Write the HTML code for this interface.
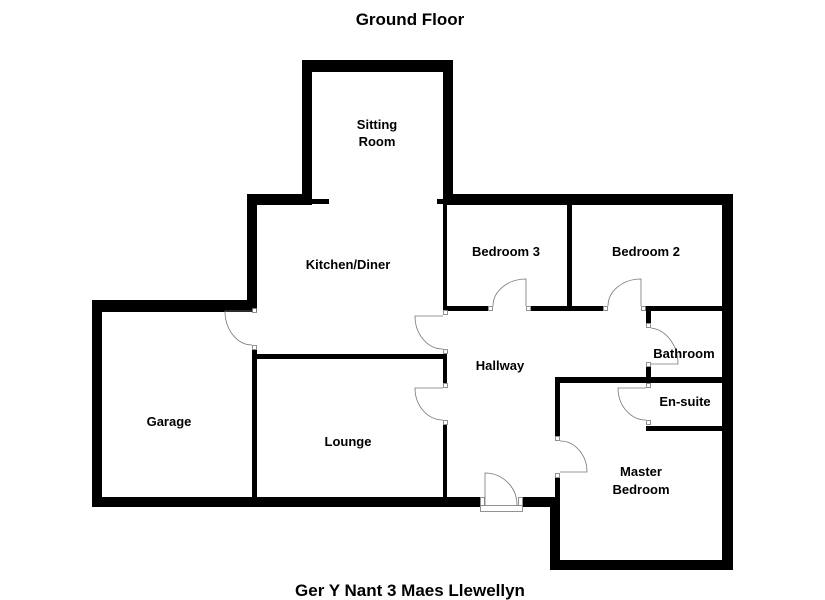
<!DOCTYPE html>
<html><head><meta charset="utf-8"><style>
html,body{margin:0;padding:0;background:#fff;}
svg{display:block;}
text{font-family:"Liberation Sans",Arial,sans-serif;font-weight:bold;fill:#000;}
</style></head><body>
<svg width="825" height="600" viewBox="0 0 825 600" xmlns="http://www.w3.org/2000/svg">
<text x="410" y="25" font-size="17" text-anchor="middle">Ground Floor</text>
<text x="410" y="596" font-size="17" text-anchor="middle">Ger Y Nant 3 Maes Llewellyn</text>
<g fill="#000">
<!-- sitting room -->
<rect x="302" y="60" width="151" height="12"/>
<rect x="302" y="60" width="10" height="145"/>
<rect x="443" y="60" width="10" height="145"/>
<rect x="312" y="199" width="17" height="5"/>
<rect x="437" y="199" width="10" height="5"/>
<!-- top walls -->
<rect x="247" y="194" width="65" height="11"/>
<rect x="443" y="194" width="290" height="11"/>
<rect x="247" y="194" width="10" height="114"/>
<!-- garage -->
<rect x="92" y="300" width="165" height="12"/>
<rect x="92" y="300" width="10" height="207"/>
<rect x="92" y="497" width="388" height="10"/>
<rect x="252" y="350" width="5" height="150"/>
<!-- lounge -->
<rect x="257" y="354" width="190" height="5"/>
<rect x="443" y="354" width="4" height="29"/>
<rect x="443" y="425" width="4" height="75"/>
<!-- kitchen right -->
<rect x="443" y="205" width="4" height="105"/>
<!-- bedroom 3/2 -->
<rect x="567" y="205" width="5" height="101"/>
<rect x="447" y="306" width="41" height="5"/>
<rect x="531" y="306" width="72" height="5"/>
<rect x="645" y="306" width="77" height="5"/>
<rect x="722" y="194" width="11" height="376"/>
<!-- bathroom -->
<rect x="646" y="306" width="5" height="17"/>
<rect x="646" y="367" width="5" height="12"/>
<rect x="555" y="377" width="167" height="6"/>
<rect x="646" y="426" width="76" height="5"/>
<!-- master -->
<rect x="555" y="377" width="5" height="59"/>
<rect x="555" y="478" width="5" height="20"/>
<rect x="523" y="497" width="37" height="10"/>
<rect x="550" y="497" width="10" height="73"/>
<rect x="550" y="560" width="183" height="10"/>
</g>
<g fill="#fff" stroke="#777" stroke-width="0.8">
<rect x="252.5" y="308.5" width="4" height="4"/>
<rect x="252.5" y="345.5" width="4" height="4"/>
<rect x="443.5" y="310.5" width="4" height="4"/>
<rect x="443.5" y="349.5" width="4" height="4"/>
<rect x="443.5" y="383.5" width="4" height="4"/>
<rect x="443.5" y="420.5" width="4" height="4"/>
<rect x="488.5" y="306.5" width="4" height="4"/>
<rect x="526.5" y="306.5" width="4" height="4"/>
<rect x="603.5" y="306.5" width="4" height="4"/>
<rect x="641.5" y="306.5" width="4" height="4"/>
<rect x="646.5" y="323.5" width="4" height="4"/>
<rect x="646.5" y="362.5" width="4" height="4"/>
<rect x="646.5" y="383.5" width="4" height="4"/>
<rect x="646.5" y="420.5" width="4" height="4"/>
<rect x="555.5" y="436.5" width="4" height="4"/>
<rect x="555.5" y="473.5" width="4" height="4"/>
<rect x="480.5" y="497.5" width="4" height="8"/>
<rect x="518.5" y="497.5" width="4" height="8"/>
<rect x="480.5" y="505.5" width="42" height="6"/>
</g>
<g fill="none" stroke="#777" stroke-width="0.8">
<!-- garage door -->
<path d="M252 311 H225 A27 34 0 0 0 252 345"/>
<!-- kitchen door -->
<path d="M443 316 H415 A28 33 0 0 0 443 349"/>
<!-- lounge door -->
<path d="M443 388 H415 A28 32 0 0 0 443 420"/>
<!-- bed3 door -->
<path d="M526 306 V279 A33 27 0 0 0 493 306"/>
<!-- bed2 door -->
<path d="M641 306 V279 A33 27 0 0 0 608 306"/>
<!-- bathroom door -->
<path d="M651 328 A30 36 0 0 1 678 364 H651"/>
<!-- ensuite door -->
<path d="M646 388 H618 A28 32 0 0 0 646 420"/>
<!-- master door -->
<path d="M560 441 A27 31 0 0 1 587 472 H560"/>
<!-- front door -->
<path d="M485 505 V473 A32 32 0 0 1 517 505"/>
</g>
<g font-size="13" text-anchor="middle">
<text x="377" y="129">Sitting</text>
<text x="377" y="146">Room</text>
<text x="348" y="269">Kitchen/Diner</text>
<text x="506" y="256">Bedroom 3</text>
<text x="646" y="256">Bedroom 2</text>
<text x="500" y="370">Hallway</text>
<text x="684" y="358">Bathroom</text>
<text x="685" y="406">En-suite</text>
<text x="169" y="426">Garage</text>
<text x="348" y="446">Lounge</text>
<text x="641" y="476">Master</text>
<text x="641" y="494">Bedroom</text>
</g>
</svg>
</body></html>
